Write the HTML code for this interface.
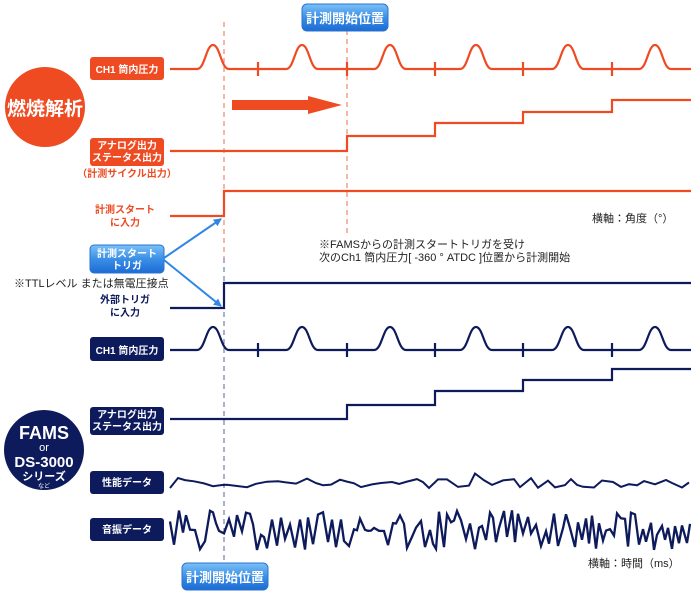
<!DOCTYPE html>
<html><head><meta charset="utf-8"><style>
html,body{margin:0;padding:0;background:#fff;}
svg{display:block}
text{font-family:"Liberation Sans","Noto Sans CJK JP",sans-serif;}
</style></head><body>
<svg id="s" width="691" height="596" viewBox="0 0 691 596" xmlns="http://www.w3.org/2000/svg">
<defs>
<linearGradient id="bg" x1="0" y1="0" x2="0" y2="1">
<stop offset="0" stop-color="#7cc0f7"/><stop offset="0.5" stop-color="#3b8fe6"/><stop offset="1" stop-color="#1c6bd4"/>
</linearGradient>
<marker id="ar" markerWidth="8" markerHeight="8" refX="7" refY="4" orient="auto" markerUnits="userSpaceOnUse"><path d="M0,0 L8,4 L0,8 z" fill="#2f86e6"/></marker>
</defs>
<line x1="224" y1="22" x2="224" y2="258" stroke="#f0907a" stroke-width="1.3" stroke-dasharray="5,4"/>
<line x1="224" y1="258" x2="224" y2="565" stroke="#7e87ad" stroke-width="1.3" stroke-dasharray="5,4"/>
<line x1="347" y1="30" x2="347" y2="235" stroke="#f0907a" stroke-width="1.3" stroke-dasharray="5,4"/>

<rect x="302" y="4" width="86" height="27" rx="5" fill="url(#bg)" stroke="#2a74d0"/>
<text x="345" y="23" font-size="13" font-weight="bold" fill="#fff" text-anchor="middle">計測開始位置</text>

<circle cx="45" cy="107" r="40" fill="#ee4b22"/>
<text x="45" y="115" font-size="19" font-weight="bold" fill="#fff" text-anchor="middle">燃焼解析</text>
<circle cx="44" cy="450" r="40" fill="#0d1a5c"/>
<text x="44" y="439" font-size="18" font-weight="bold" fill="#fff" text-anchor="middle">FAMS</text>
<text x="44" y="451" font-size="11" fill="#fff" text-anchor="middle">or</text>
<text x="44" y="467" font-size="15" font-weight="bold" fill="#fff" text-anchor="middle">DS-3000</text>
<text x="44" y="480" font-size="11" font-weight="bold" fill="#fff" text-anchor="middle">シリーズ</text>
<text x="44" y="488" font-size="6" fill="#fff" text-anchor="middle">など</text>

<g fill="#ee4b22">
<rect x="90" y="57" width="74" height="23" rx="3"/>
<rect x="90" y="138" width="74" height="28" rx="3"/>
<rect x="90" y="337" width="74" height="24" rx="3" fill="#0d1a5c"/>
<rect x="90" y="407" width="74" height="28" rx="3" fill="#0d1a5c"/>
<rect x="90" y="471" width="74" height="23" rx="3" fill="#0d1a5c"/>
<rect x="90" y="518" width="74" height="23" rx="3" fill="#0d1a5c"/>
</g>
<g font-size="10" font-weight="bold" fill="#fff" text-anchor="middle">
<text x="127" y="73">CH1 筒内圧力</text>
<text x="127" y="149">アナログ出力</text>
<text x="127" y="161">ステータス出力</text>
<text x="127" y="354">CH1 筒内圧力</text>
<text x="127" y="418">アナログ出力</text>
<text x="127" y="430">ステータス出力</text>
<text x="127" y="486">性能データ</text>
<text x="127" y="533">音振データ</text>
</g>
<g font-size="10" font-weight="bold" text-anchor="middle">
<text x="127" y="177" fill="#ee4b22">（計測サイクル出力）</text>
<text x="125" y="213" fill="#ee4b22">計測スタート</text>
<text x="125" y="226" fill="#ee4b22">に入力</text>
<text x="125" y="303" fill="#0d1a5c">外部トリガ</text>
<text x="125" y="316" fill="#0d1a5c">に入力</text>
</g>

<rect x="90" y="245" width="74" height="28" rx="4" fill="url(#bg)" stroke="#2a74d0"/>
<text x="127" y="257" font-size="10" font-weight="bold" fill="#fff" text-anchor="middle">計測スタート</text>
<text x="127" y="269" font-size="10" font-weight="bold" fill="#fff" text-anchor="middle">トリガ</text>
<line x1="164" y1="258" x2="221" y2="219" stroke="#2f86e6" stroke-width="2" marker-end="url(#ar)"/>
<line x1="164" y1="260" x2="221" y2="306" stroke="#2f86e6" stroke-width="2" marker-end="url(#ar)"/>

<g font-size="11" fill="#222">
<text x="14" y="287">※TTLレベル  または無電圧接点</text>
<text x="319" y="248">※FAMSからの計測スタートトリガを受け</text>
<text x="319" y="261">次のCh1 筒内圧力[ -360 °  ATDC ]位置から計測開始</text>
<text x="592" y="222">横軸：角度（°）</text>
<text x="588" y="567">横軸：時間（ms）</text>
</g>

<path d="M232,100 L308,100 L308,96 L342,105 L308,114 L308,110 L232,110 z" fill="#ee4b22"/>

<g id="lines" fill="none" stroke-width="2.2">
<path id="o1" stroke="#ee4b22"/>
<path stroke="#ee4b22" d="M170,151 H347 V136 H435 V123 H523 V112 H612 V100 H691"/>
<path stroke="#ee4b22" d="M170,216 H224 V191 H691"/>
<path stroke="#0d1a5c" d="M170,308 H224 V283 H691"/>
<path id="n1" stroke="#0d1a5c"/>
<path stroke="#0d1a5c" d="M170,419 H347 V405 H435 V391 H523 V380 H612 V369 H691"/>
<polyline id="perf" stroke="#0d1a5c" stroke-width="2"/>
<polyline id="snd" stroke="#0d1a5c" stroke-width="2.3"/>
</g>

<rect x="182" y="563" width="86" height="27" rx="5" fill="url(#bg)" stroke="#2a74d0"/>
<text x="225" y="582" font-size="13" font-weight="bold" fill="#fff" text-anchor="middle">計測開始位置</text>
</svg>
<script>
function ch(base,top){
 var peaks=[213,302,390,476,568,655],ticks=[258,347,435,523,612];
 var d="M170,"+base;
 peaks.forEach(function(p){d+=" L"+(p-16)+","+base+" C"+(p-8)+","+base+" "+(p-7)+","+top+" "+p+","+top+" C"+(p+7)+","+top+" "+(p+8)+","+base+" "+(p+16)+","+base;});
 d+=" L691,"+base;
 ticks.forEach(function(t){d+=" M"+t+","+(base-7)+" V"+(base+7);});
 return d;
}
document.getElementById("o1").setAttribute("d",ch(69,45));
document.getElementById("n1").setAttribute("d",ch(350,327));
var seed=7;function r(){seed=(seed*16807)%2147483647;return (seed-1)/2147483646;}
var p="170,488 ";
for(var x=178;x<=691;x+=6+Math.floor(r()*6)){p+=x+","+(478+r()*10+(r()<0.1?(r()-0.5)*14:0)).toFixed(1)+" ";}
document.getElementById("perf").setAttribute("points",p);
var s="";var up=true;
for(var x=170;x<=691;x+=3+Math.floor(r()*3)){var a=r();var y=up?(510+a*22):(528+a*22);up=!up;if(r()<0.25)up=!up;s+=x+","+y.toFixed(1)+" ";}
document.getElementById("snd").setAttribute("points",s);
</script>
</body></html>
